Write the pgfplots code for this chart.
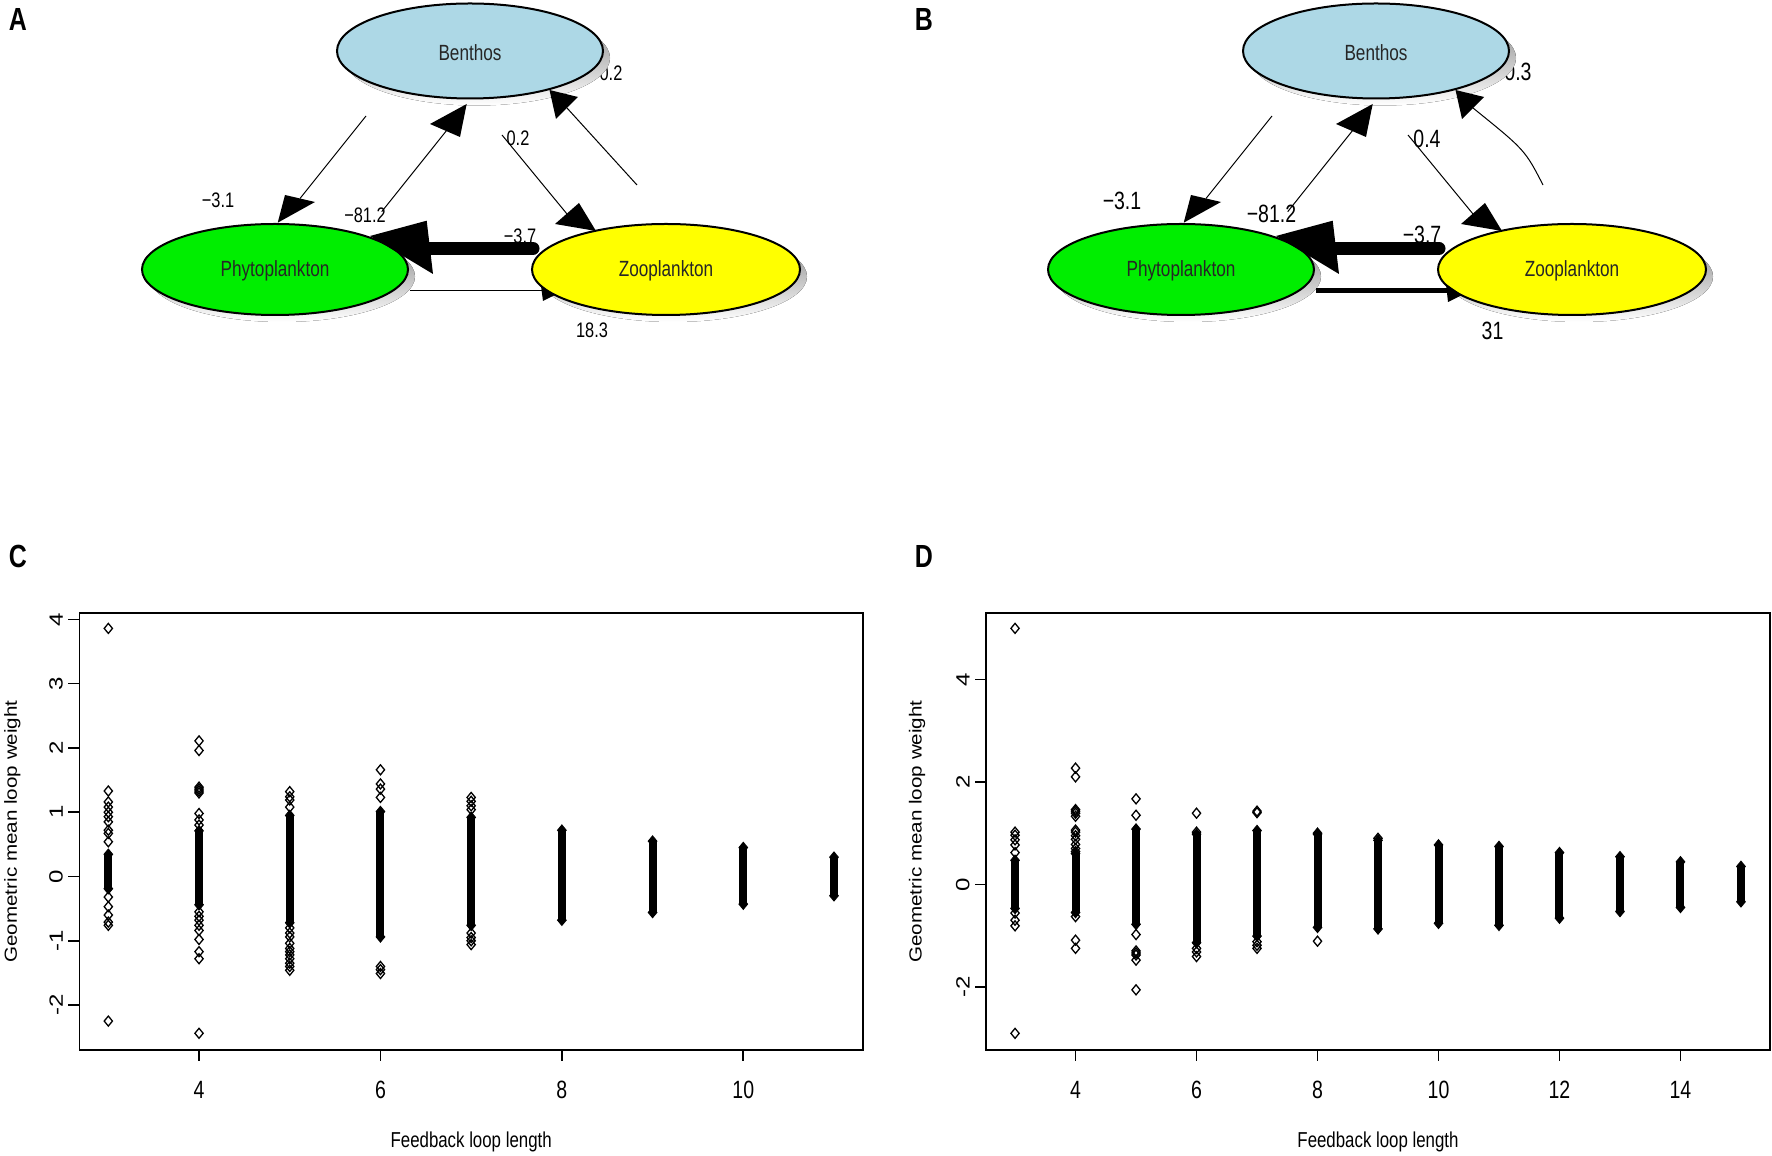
\documentclass[border=0pt]{standalone}
\usepackage{fontspec}
\setmainfont{Liberation Sans}
\newfontfamily\nar[FakeStretch=0.78]{Liberation Sans}
\usepackage{graphicx}
\usepackage{pgfplots}
\pgfplotsset{compat=1.18}

\definecolor{benthos}{RGB}{173,216,230}
\definecolor{phyto}{RGB}{0,238,0}
\definecolor{zoo}{RGB}{255,255,0}
\definecolor{shade}{RGB}{190,190,190}

\newcommand\ry[1]{\scalebox{1}[0.8]{#1}}
\newcommand\fs[1]{\fontsize{#1}{#1}\selectfont}

\pgfplotsset{
  loopplot/.style={
    scale only axis, anchor=south west,
    width=392pt, height=218.5pt,
    tick align=outside, major tick length=5.5pt,
    xtick pos=left, ytick pos=left,
    axis line style={line width=0.8pt},
    every tick/.style={black, line width=0.8pt},
    xticklabel style={font=\nar\fs{12.5pt}, anchor=north, inner sep=0pt},
    xticklabel shift=10pt,
    yticklabel style={font=\fs{12pt}, rotate=90, anchor=south, inner sep=0pt},
    yticklabel shift=2.5pt,
    xlabel={\nar\fs{10.8pt}Feedback loop length},
    ylabel={\fs{10.3pt}\scalebox{1}[0.85]{Geometric mean loop weight}},
    xlabel style={at={(axis description cs:0.5,0)}, anchor=center, yshift=-46pt},
  },
  dense/.style={black, line width=4pt, mark=diamond*, mark size=2.6pt,
    mark options={line width=0.5pt, solid, fill=black, xscale=1.1}, unbounded coords=jump},
  open/.style={only marks, mark=diamond, mark size=2.5pt,
    mark options={line width=0.65pt, draw=black, xscale=1.1}},
}

\begin{document}
\begin{tikzpicture}
\useasboundingbox (0,0) rectangle (886pt,578pt);

% network diagrams A and B, drawn in the pixel grid of the figure
\begin{axis}[at={(0pt,0pt)}, anchor=south west, scale only axis,
  width=886pt, height=578pt, xmin=0, xmax=1772, ymin=0, ymax=1156,
  y dir=reverse, hide axis, clip=false]

% panel letters
\node[font=\nar\bfseries\fs{16pt}] at (axis cs:18,20) {A};
\node[font=\nar\bfseries\fs{16pt}] at (axis cs:924,20) {B};
\node[font=\nar\bfseries\fs{16pt}] at (axis cs:18,556) {C};
\node[font=\nar\bfseries\fs{16pt}] at (axis cs:924,556) {D};

% edge labels A
\begin{scope}[every node/.style={font=\nar\fs{10.5pt}, inner sep=0pt}]
\node at (axis cs:218,200) {−3.1};
\node at (axis cs:365,215) {−81.2};
\node at (axis cs:518,138) {0.2};
\node at (axis cs:611,73.5) {0.2};
\node at (axis cs:520,236) {−3.7};
\node at (axis cs:592,330) {18.3};
\end{scope}
% edge labels B
\begin{scope}[every node/.style={font=\nar\fs{12.5pt}, inner sep=0pt}]
\node at (axis cs:1122,201) {−3.1};
\node at (axis cs:1271.5,213.5) {−81.2};
\node at (axis cs:1427,139) {0.4};
\node at (axis cs:1518,71.5) {0.3};
\node at (axis cs:1422,235) {−3.7};
\node at (axis cs:1492.5,331) {31};
\end{scope}

% shadows
\fill[shade] (axis cs:477,58) ellipse [x radius=66.5pt, y radius=23.75pt];
\fill[shade] (axis cs:282,276.5) ellipse [x radius=66.5pt, y radius=22.75pt];
\fill[shade] (axis cs:673,276.5) ellipse [x radius=67pt, y radius=22.75pt];
\fill[shade] (axis cs:1383,58) ellipse [x radius=66.5pt, y radius=23.75pt];
\fill[shade] (axis cs:1188,276.5) ellipse [x radius=66.5pt, y radius=22.75pt];
\fill[shade] (axis cs:1579,276.5) ellipse [x radius=67pt, y radius=22.75pt];

% nodes
\filldraw[fill=benthos, line width=1pt] (axis cs:470,51) ellipse [x radius=66.5pt, y radius=23.75pt];
\filldraw[fill=phyto, line width=1pt] (axis cs:275,269.5) ellipse [x radius=66.5pt, y radius=22.75pt];
\filldraw[fill=zoo, line width=1pt] (axis cs:666,269.5) ellipse [x radius=67pt, y radius=22.75pt];
\filldraw[fill=benthos, line width=1pt] (axis cs:1376,51) ellipse [x radius=66.5pt, y radius=23.75pt];
\filldraw[fill=phyto, line width=1pt] (axis cs:1181,269.5) ellipse [x radius=66.5pt, y radius=22.75pt];
\filldraw[fill=zoo, line width=1pt] (axis cs:1572,269.5) ellipse [x radius=67pt, y radius=22.75pt];
\begin{scope}[every node/.style={font=\nar\fs{11pt}, text=black!85}]
\node at (axis cs:470,53) {Benthos};
\node at (axis cs:275,271) {Phytoplankton};
\node at (axis cs:666,271) {Zooplankton};
\node at (axis cs:1376,53) {Benthos};
\node at (axis cs:1181,271) {Phytoplankton};
\node at (axis cs:1572,271) {Zooplankton};
\end{scope}

% edges A
\draw[line width=0.5pt] (axis cs:366,116) -- (axis cs:300,198.5);
\fill (axis cs:285,195) -- (axis cs:315,202) -- (axis cs:277.7,222.7) -- cycle;
\draw[line width=0.5pt] (axis cs:381.7,211.7) -- (axis cs:447,130);
\fill (axis cs:430,124) -- (axis cs:460,137) -- (axis cs:466.7,104) -- cycle;
\draw[line width=0.5pt] (axis cs:502,135) -- (axis cs:567,214);
\fill (axis cs:555,224) -- (axis cs:579,203) -- (axis cs:596,231) -- cycle;
\draw[line width=0.5pt] (axis cs:637,185) -- (axis cs:567,108);
\fill (axis cs:556,119) -- (axis cs:578,97) -- (axis cs:549.5,90) -- cycle;
\draw[line width=6.5pt, line cap=round] (axis cs:533,248.5) -- (axis cs:430,248.5);
\fill (axis cs:426.7,220.7) -- (axis cs:433,274) -- (axis cs:370,236) -- cycle;
\draw[line width=0.5pt] (axis cs:410,291) -- (axis cs:545,291);
\fill (axis cs:541,286) -- (axis cs:543,301) -- (axis cs:555,295) -- cycle;

% edges B
\draw[line width=0.5pt] (axis cs:1272,116) -- (axis cs:1206,198.5);
\fill (axis cs:1191,195) -- (axis cs:1221,202) -- (axis cs:1183.7,222.7) -- cycle;
\draw[line width=0.5pt] (axis cs:1287.7,211.7) -- (axis cs:1353,130);
\fill (axis cs:1336,124) -- (axis cs:1366,137) -- (axis cs:1372.7,104) -- cycle;
\draw[line width=0.5pt] (axis cs:1408,135) -- (axis cs:1473,214);
\fill (axis cs:1461,224) -- (axis cs:1485,203) -- (axis cs:1502,231) -- cycle;
\draw[line width=0.5pt] (axis cs:1543,185) .. controls (axis cs:1525,150) .. (axis cs:1473,108);
\fill (axis cs:1462,119) -- (axis cs:1484,97) -- (axis cs:1455.5,90) -- cycle;
\draw[line width=6.5pt, line cap=round] (axis cs:1439,248.5) -- (axis cs:1336,248.5);
\fill (axis cs:1332.7,220.7) -- (axis cs:1339,274) -- (axis cs:1276,236) -- cycle;
\draw[line width=2.5pt] (axis cs:1316,291) -- (axis cs:1451,291);
\fill (axis cs:1446,284) -- (axis cs:1448,302) -- (axis cs:1462,295) -- cycle;
\end{axis}

% panel C
\begin{axis}[loopplot, at={(39.65pt,53pt)}, width=391.85pt,
  xmin=2.68, xmax=11.32, ymin=-2.70, ymax=4.10,
  xtick={4,6,8,10}, xticklabels={4,6,8,10},
  ytick={-2,-1,0,1,2,3,4},
  yticklabels={\ry{-2},\ry{-1},\ry{0},\ry{1},\ry{2},\ry{3},\ry{4}},
  ylabel style={at={(axis description cs:-0.0855,0.5)}, anchor=center}]
\addplot[dense] coordinates {
 (3,0.345) (3,-0.19) (3,nan)
 (4,0.71) (4,-0.44) (4,nan)
 (5,0.95) (5,-0.72) (5,nan)
 (6,1.01) (6,-0.94) (6,nan)
 (7,0.92) (7,-0.76) (7,nan)
 (8,0.72) (8,-0.68) (8,nan)
 (9,0.55) (9,-0.56) (9,nan)
 (10,0.45) (10,-0.43) (10,nan)
 (11,0.30) (11,-0.30)
};
\addplot[open] coordinates {
 (3,3.86) (3,1.33) (3,1.16) (3,1.08) (3,1.00) (3,0.93) (3,0.85) (3,0.72)
 (3,0.67) (3,0.54) (3,-0.32) (3,-0.47) (3,-0.60) (3,-0.71) (3,-0.76) (3,-2.25)
 (4,2.11) (4,1.96) (4,1.39) (4,1.36) (4,1.33) (4,1.30) (4,0.98) (4,0.88)
 (4,0.80) (4,-0.55) (4,-0.62) (4,-0.68) (4,-0.76) (4,-0.84) (4,-0.98)
 (4,-1.17) (4,-1.28) (4,-2.44)
 (5,1.32) (5,1.24) (5,1.19) (5,1.08) (5,-0.80) (5,-0.88) (5,-0.94) (5,-1.04)
 (5,-1.12) (5,-1.17) (5,-1.22) (5,-1.28) (5,-1.35) (5,-1.40) (5,-1.46)
 (6,1.66) (6,1.44) (6,1.36) (6,1.23) (6,-1.40) (6,-1.45) (6,-1.51)
 (7,1.23) (7,1.17) (7,1.10) (7,1.04) (7,-0.88) (7,-0.95) (7,-1.00) (7,-1.06)
};
\end{axis}

% panel D
\begin{axis}[loopplot, at={(493pt,53pt)}, width=392pt,
  xmin=2.52, xmax=15.48, ymin=-3.235, ymax=5.30,
  xtick={4,6,8,10,12,14}, xticklabels={4,6,8,10,12,14},
  ytick={-2,0,2,4},
  yticklabels={\ry{-2},\ry{0},\ry{2},\ry{4}},
  ylabel style={at={(axis description cs:-0.088,0.5)}, anchor=center}]
\addplot[dense] coordinates {
 (3,0.47) (3,-0.47) (3,nan)
 (4,0.60) (4,-0.55) (4,nan)
 (5,1.08) (5,-0.78) (5,nan)
 (6,0.98) (6,-1.14) (6,nan)
 (7,1.05) (7,-1.01) (7,nan)
 (8,0.98) (8,-0.84) (8,nan)
 (9,0.86) (9,-0.87) (9,nan)
 (10,0.77) (10,-0.76) (10,nan)
 (11,0.74) (11,-0.80) (11,nan)
 (12,0.62) (12,-0.66) (12,nan)
 (13,0.54) (13,-0.53) (13,nan)
 (14,0.44) (14,-0.45) (14,nan)
 (15,0.35) (15,-0.34)
};
\addplot[open] coordinates {
 (3,5.00) (3,1.02) (3,0.96) (3,0.87) (3,0.77) (3,0.62) (3,-0.56) (3,-0.70)
 (3,-0.81) (3,-2.91)
 (4,2.27) (4,2.10) (4,1.46) (4,1.43) (4,1.39) (4,1.33) (4,1.06) (4,1.02)
 (4,0.95) (4,0.88) (4,0.78) (4,0.70) (4,0.64) (4,-0.63) (4,-1.09) (4,-1.25)
 (5,1.67) (5,1.35) (5,-0.98) (5,-1.30) (5,-1.34) (5,-1.38) (5,-1.48) (5,-2.06)
 (6,1.39) (6,1.02) (6,-1.25) (6,-1.32) (6,-1.41)
 (7,1.43) (7,1.40) (7,-1.12) (7,-1.19) (7,-1.25)
 (8,1.00) (8,-1.11)
 (9,0.90)
};
\end{axis}
\end{tikzpicture}
\end{document}
